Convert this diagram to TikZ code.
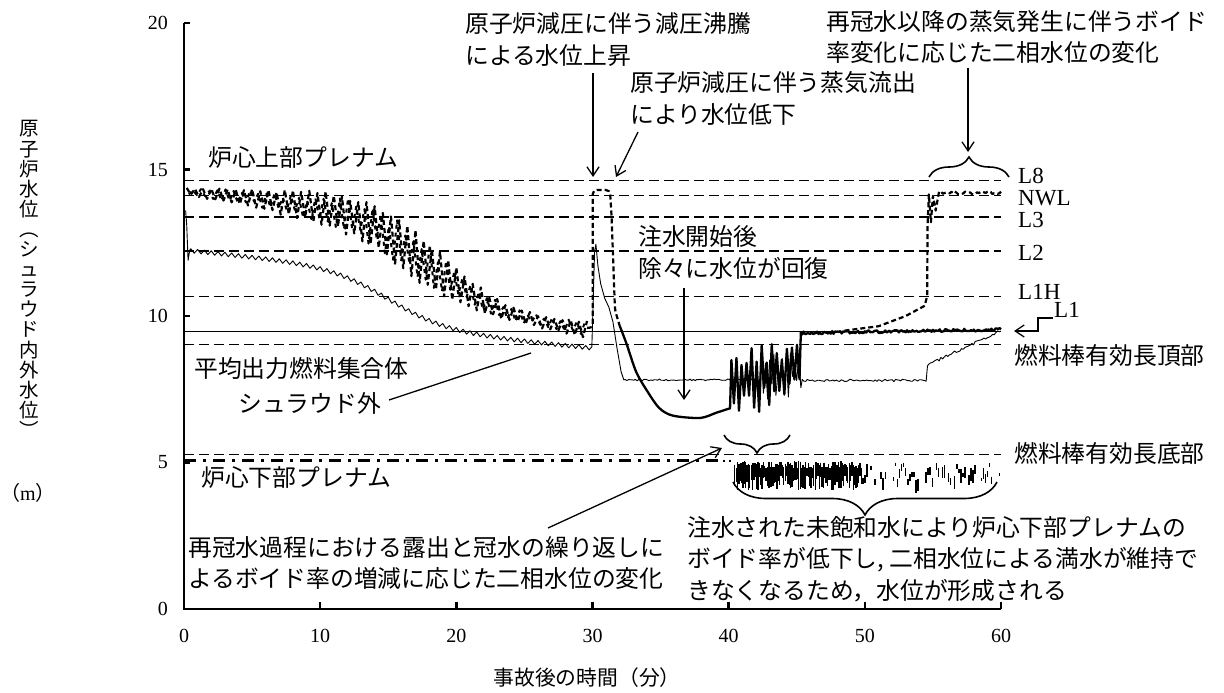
\documentclass[tikz,border=0pt]{standalone}
\usepackage{fontspec}
\setmainfont{Liberation Serif}
\newfontfamily\jp{Noto Sans CJK JP}
\usetikzlibrary{arrows.meta,decorations.pathreplacing}
\pgfmathdeclarefunction{upe}{1}{\pgfmathparse{9.78+4.6/(1+exp((#1-19.2)/2.5))}}
\pgfmathdeclarefunction{loe}{1}{\pgfmathparse{14.15-0.095*#1-2.1/(1+exp(-(#1-16.0)/2))}}
\pgfmathdeclarefunction{thn}{1}{\pgfmathparse{12.25-0.045*#1-2.0/(1+exp(-(#1-15)/2.2))}}
\tikzset{
  jt/.style={font=\jp\fontsize{23.8}{31.5}\selectfont, inner sep=0pt, anchor=west, align=left},
  lab/.style={font=\fontsize{23}{23}\selectfont, inner sep=0pt, anchor=west},
  tk/.style={font=\fontsize{20}{20}\selectfont, inner sep=0pt},
  refl/.style={line width=1.1pt, dash pattern=on 10pt off 5pt},
  l1line/.style={line width=1.9pt},
  ddot/.style={line width=2.6pt, dash pattern=on 12pt off 7pt on 3pt off 7pt},
  bandl/.style={line width=2.2pt, dash pattern=on 5pt off 3pt, line join=round},
  thickl/.style={line width=2.3pt, line join=round},
  thinl/.style={line width=0.9pt, line join=round},
  axisl/.style={line width=2.6pt},
  arr/.style={line width=1.3pt, -{Straight Barb[length=9pt,width=12pt]}},
  conn/.style={line width=1.3pt},
  brc/.style={line width=1.6pt, decorate, decoration={brace, amplitude=#1}},
}
\begin{document}
\begin{tikzpicture}[x=1pt,y=-1pt]
\useasboundingbox (0,0) rectangle (1224,693);
\pgfmathsetseed{2024}
\begin{scope}[shift={(184pt,-609pt)},x=13.617pt,y=29.3pt]
% reference levels
\foreach \h in {14.61,14.10,13.38,12.22,10.68,9.04,5.26}
  \draw[refl] (0,\h) -- (60,\h);
\draw[l1line] (0,9.47) -- (60,9.47);
% lower plenum
\draw[ddot] (0,5.06) -- (39.6,5.06);
\draw[line width=2pt, dash pattern=on 2pt off 4pt] (39.6,5.06) -- (40.4,5.06);
% scattered two-phase band (two interleaved passes)
\draw[bandl] plot[variable=\t,domain=0.2:29.6,samples=99]
  (\t,{0.5*(upe(\t)+loe(\t))+0.5*(upe(\t)-loe(\t))*cos(600*mod(\t-0.2,0.6))*(0.7+0.3*rnd)});
\draw[bandl, dash pattern=on 4pt off 4pt, line width=2pt] plot[variable=\t,domain=0.35:29.45,samples=98]
  (\t,{0.5*(upe(\t)+loe(\t))-0.5*(upe(\t)-loe(\t))*cos(600*mod(\t-0.35,0.6))*(0.3+0.6*rnd)});
% peak (dashed)
\draw[bandl,rounded corners=4pt] (29.6,9.6) -- (30.02,9.58) -- (30.02,14.3) -- (31.28,14.3)
  -- (31.4,13.4) -- (31.65,10.2) -- (32.0,9.66);
% thick solid
\draw[thickl] plot[smooth] coordinates {(32.0,9.66) (32.5,9.05) (33.2,8.1) (34,7.45) (34.9,6.86) (35.9,6.6) (37.9,6.52) (39.1,6.7) (40.1,6.85)}
  -- plot[variable=\t,domain=40.2:45.2,samples=28]
     (\t,{(15.2+0.3*(\t-40.2))/2+(3.2-0.3*(\t-40.2))/2*cos(180*(\t-40.2)/0.18519)*(0.3+0.7*rnd)})
  -- (45.3,9.45)
  -- plot[variable=\t,domain=45.4:60,samples=147] (\t,{9.42+0.008*(\t-45.4)+0.05*rand});
% thin curve
\draw[thinl] (0.12,13.6) -- (0.2,13.1) -- (0.3,11.9) -- (0.42,12.25)
  -- plot[variable=\t,domain=0.5:29.75,samples=118] (\t,{thn(\t)+0.07*cos(720*mod(\t-0.5,1))})
  -- (29.95,8.95) -- (30.05,10.5) -- (30.15,12.2) -- (30.25,12.45) -- (30.4,11.7) -- (30.6,11.1)
  -- (30.9,10.6) -- (31.2,10.3) -- (31.5,9.8) -- (31.8,8.9) -- (32.1,8.1) -- (32.3,7.82)
  -- plot[variable=\t,domain=32.4:42.3,samples=80] (\t,{7.82+0.03*rand})
  -- plot[variable=\t,domain=42.4:45.3,samples=20] (\t,{7.95+0.8*cos(180*(\t-42.4)/0.15263)*rnd})
  -- plot[variable=\t,domain=45.4:54.5,samples=74] (\t,{7.8+0.04*rand})
  -- (54.6,8.3)
  -- plot[variable=\t,domain=54.7:60,samples=43] (\t,{8.35+(\t-54.7)/5.3*1.15+0.05*rand});
% rising dashed after reflood
\draw[bandl] (48.5,9.5) -- (51,9.65) -- (53,10.0) -- (54.4,10.35) -- (54.58,10.7) -- (54.6,13.0)
  -- (54.7,14.15) -- (54.85,13.2) -- (55.0,14.1) -- (55.2,13.6) -- (55.45,14.25)
  -- plot[variable=\t,domain=55.6:60,samples=36] (\t,{14.2+0.05*rand});
% lower plenum noisy band
\foreach \i in {0,...,93} {
  \pgfmathsetmacro\bt{40.45+\i*0.1}
  \pgfmathsetmacro\ha{5.05-0.25*rnd}
  \pgfmathsetmacro\hb{4.55-0.5*rnd}
  \draw[line width=1.3pt] (\bt,\ha) -- (\bt,\hb);
}
\foreach \i in {0,...,68} {
  \pgfmathsetmacro\bt{49.85+\i*0.15}
  \pgfmathtruncatemacro\ok{rnd<0.7 ? 1 : 0}
  \ifnum\ok=1
    \pgfmathsetmacro\ha{5.0-0.6*rnd}
    \pgfmathsetmacro\hb{\ha-0.1-0.35*rnd}
    \draw[line width=1.5pt] (\bt,\ha) -- (\bt,\hb);
  \fi
}
% axes
\draw[axisl] (0,20) -- (0,0) -- (60,0);
\foreach \h in {5,10,15,20} \draw[axisl] (0,\h) -- ++(6pt,0);
\foreach \t in {10,20,...,60} \draw[axisl] (\t,0) -- ++(0,7pt);
\end{scope}
% tick labels
\foreach \v/\yy in {0/609,5/462.5,10/316,15/169.5,20/23}
  \node[tk,anchor=east] (yl\v) at (168,\yy) {\v};
\foreach \v in {0,10,...,60}
  \node[tk] (xl\v) at ({184+13.617*\v},636) {\v};
% axis titles
\node[font=\jp\fontsize{19.5}{20.1}\selectfont, inner sep=0pt, align=center] (ytitle) at (29,279)
  {原\\子\\炉\\水\\位\\︵\\シ\\ュ\\ラ\\ウ\\ド\\内\\外\\水\\位\\︶};
\node[font=\fontsize{20}{20}\selectfont, inner sep=0pt] (yunit) at (28,493) {{\jp （}m{\jp ）}};
\node[font=\jp\fontsize{20.8}{21}\selectfont, inner sep=0pt] (xtitle) at (587,678) {事故後の時間（分）};
% level labels
\node[lab] (lL8) at (1018,176) {L8};
\node[lab] (lNWL) at (1018,198.5) {NWL};
\node[lab] (lL3) at (1018,220) {L3};
\node[lab] (lL2) at (1018,253) {L2};
\node[lab] (lL1H) at (1018,291.5) {L1H};
\node[lab] (lL1) at (1054,310) {L1};
\node[jt] (tTAF) at (1014,355) {燃料棒有効長頂部};
\node[jt] (tBAF) at (1014,453) {燃料棒有効長底部};
% annotations
\node[jt] (t1) at (465,39.5) {原子炉減圧に伴う減圧沸騰\\による水位上昇};
\node[jt] (t2) at (630,98.5) {原子炉減圧に伴う蒸気流出\\により水位低下};
\node[jt] (t3) at (826,37) {再冠水以降の蒸気発生に伴うボイド\\率変化に応じた二相水位の変化};
\node[jt] (t4) at (208,158) {炉心上部プレナム};
\node[jt] (t5) at (638,252.5) {注水開始後\\除々に水位が回復};
\node[jt] (t6) at (194,368) {平均出力燃料集合体};
\node[jt] (t7) at (238,403) {シュラウド外};
\node[jt] (t8) at (201,478) {炉心下部プレナム};
\node[jt] (t9) at (188,563) {再冠水過程における露出と冠水の繰り返しに\\よるボイド率の増減に応じた二相水位の変化};
\node[jt] (t10) at (687,559) {注水された未飽和水により炉心下部プレナムの\\ボイド率が低下し, 二相水位による満水が維持で\\きなくなるため，水位が形成される};
% connector points
\coordinate (a1s) at (593,73);  \coordinate (a1e) at (593,177);
\coordinate (a2s) at (638,132); \coordinate (a2e) at (616,177);
\coordinate (a3s) at (968,68);  \coordinate (a3e) at (968,152);
\coordinate (a4s) at (684,288); \coordinate (a4e) at (684,400);
\coordinate (a5s) at (389,400); \coordinate (a5e) at (531,353);
\coordinate (a6s) at (548,528); \coordinate (a6e) at (722,448);
\coordinate (l1b) at (1038,318); \coordinate (l1c) at (1038,331); \coordinate (l1e) at (1014,331);
\draw[arr] (a1s) -- (a1e);
\draw[arr] (a2s) -- (a2e);
\draw[arr] (a3s) -- (a3e);
\draw[arr] (a4s) -- (a4e);
\draw[conn] (a5s) -- (a5e);
\draw[arr] (a6s) -- (a6e);
\draw[arr] ([xshift=-1pt,yshift=-8pt]lL1.west) -- (l1b) -- (l1c) -- (l1e);
% braces
\draw[brc=20pt] (929,177) -- (1009,177);
\draw[brc=18pt] (790,435) -- (724,435);
\draw[brc=33pt] (997,482) -- (733,482);
\end{tikzpicture}
\end{document}
